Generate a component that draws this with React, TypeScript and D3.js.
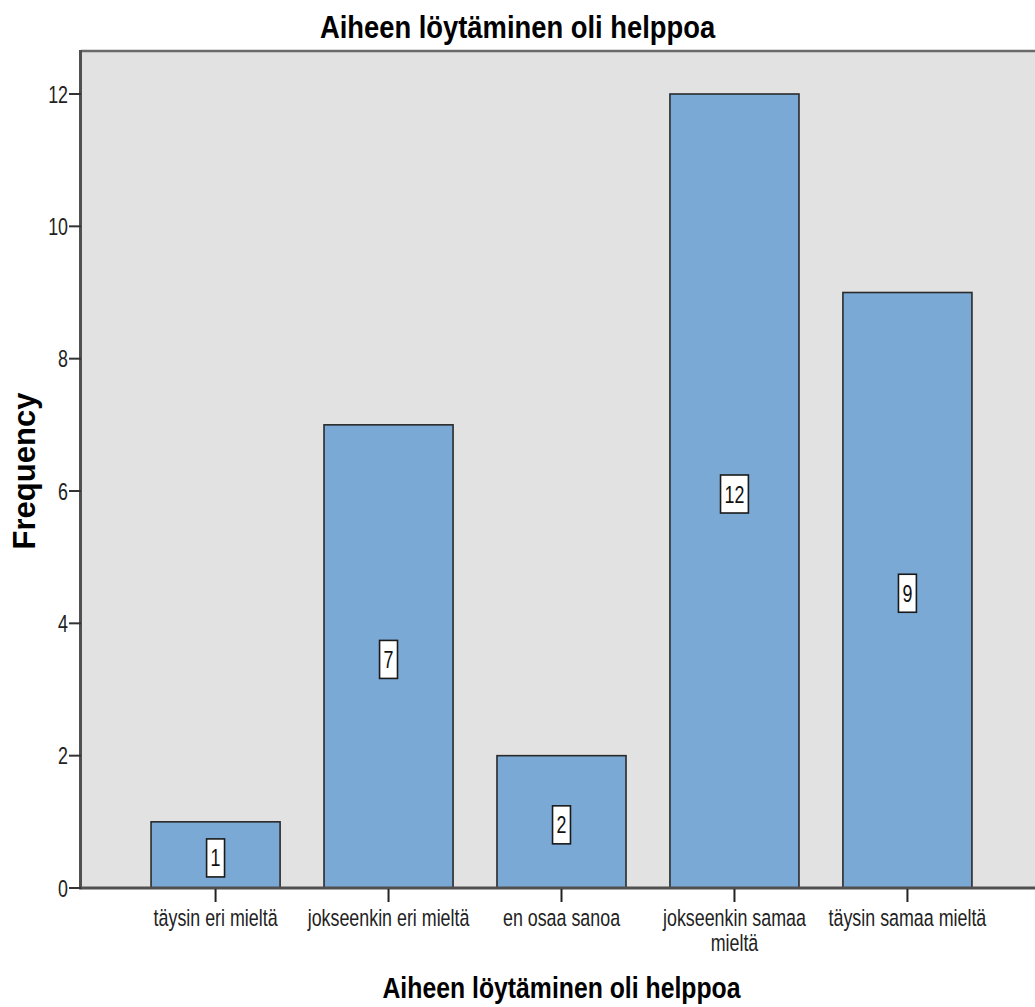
import React from "react";
import * as d3 from "d3";

const categories: string[] = [
  "täysin eri mieltä",
  "jokseenkin eri mieltä",
  "en osaa sanoa",
  "jokseenkin samaa mieltä",
  "täysin samaa mieltä",
];
const frequencies: number[] = [1, 7, 2, 12, 9];
const yTickValues: number[] = [0, 2, 4, 6, 8, 10, 12];
const chartTitle = "Aiheen löytäminen oli helppoa";
const xAxisTitle = "Aiheen löytäminen oli helppoa";
const yAxisTitle = "Frequency";

const W = 1035;
const H = 1007;
const FONT = "'Liberation Sans', Arial, sans-serif";
const LEFT = 81;
const RIGHT = 1042;
const TOP = 51;
const BOTTOM = 888;
const TICK_SX = 0.76;
const TICK_FS = 23.5;

let canvasCtx: CanvasRenderingContext2D | null = null;
function measure(text: string, font: string): number {
  if (!canvasCtx) {
    const c = document.createElement("canvas");
    canvasCtx = c.getContext("2d");
  }
  if (!canvasCtx) return text.length * 10;
  canvasCtx.font = font;
  return canvasCtx.measureText(text).width;
}

function wrap(text: string, maxW: number): string[] {
  const words = text.split(" ");
  const lines: string[] = [];
  let cur = "";
  const f = `${TICK_FS}px ${FONT}`;
  for (const w of words) {
    const test = cur ? cur + " " + w : w;
    if (measure(test, f) * TICK_SX > maxW && cur) {
      lines.push(cur);
      cur = w;
    } else cur = test;
  }
  if (cur) lines.push(cur);
  return lines;
}

export default function App() {
  const x = d3
    .scaleBand<string>()
    .domain(categories)
    .range([LEFT, RIGHT])
    .paddingInner(0.254)
    .paddingOuter(0.405);
  const y = d3.scaleLinear().domain([0, 12.65]).range([BOTTOM, TOP]);
  const bw = x.bandwidth();
  const step = x.step();

  return (
    <svg
      width={W}
      height={H}
      style={{ position: "absolute", left: 0, top: 0, background: "#fff" }}
      fontFamily={FONT}
    >
      <rect x={0} y={0} width={W} height={H} fill="#fff" />
      <text
        transform={`translate(${W / 2},38) scale(0.855,1)`}
        textAnchor="middle"
        fontSize={32}
        fontWeight="bold"
        fill="#000"
      >
        {chartTitle}
      </text>
      <rect x={LEFT} y={TOP} width={RIGHT - LEFT} height={BOTTOM - TOP} fill="#e2e2e2" />
      <line x1={LEFT} x2={RIGHT} y1={TOP} y2={TOP} stroke="#6a6a6a" strokeWidth={2.5} />
      <line x1={RIGHT} x2={RIGHT} y1={TOP} y2={BOTTOM} stroke="#6a6a6a" strokeWidth={2.5} />
      {categories.map((c, i) => {
        const v = frequencies[i];
        const x0 = x(c) as number;
        return (
          <rect
            key={c}
            x={x0}
            y={y(v)}
            width={bw}
            height={y(0) - y(v)}
            fill="#7aa9d6"
            stroke="#2a2a2a"
            strokeWidth={1.6}
          />
        );
      })}
      {categories.map((c, i) => {
        const v = frequencies[i];
        const cx = (x(c) as number) + bw / 2;
        const cy = y(v / 2) + 3;
        const tw = measure(String(v), `${TICK_FS}px ${FONT}`) * TICK_SX;
        const boxW = tw + 8;
        const boxH = 38;
        return (
          <g key={"lbl" + c}>
            <rect
              x={cx - boxW / 2}
              y={cy - boxH / 2}
              width={boxW}
              height={boxH}
              fill="#fff"
              stroke="#1a1a1a"
              strokeWidth={1.6}
            />
            <text
              transform={`translate(${cx},${cy + 8.5}) scale(${TICK_SX},1)`}
              textAnchor="middle"
              fontSize={TICK_FS}
              fill="#111"
            >
              {v}
            </text>
          </g>
        );
      })}
      <line x1={80.5} x2={80.5} y1={TOP - 1} y2={BOTTOM + 1.5} stroke="#505050" strokeWidth={3} />
      {yTickValues.map((t) => (
        <g key={"yt" + t}>
          <line x1={69} x2={81} y1={y(t)} y2={y(t)} stroke="#333" strokeWidth={2} />
          <text
            transform={`translate(68,${y(t) + 8.5}) scale(${TICK_SX},1)`}
            textAnchor="end"
            fontSize={TICK_FS}
            fill="#222"
          >
            {t}
          </text>
        </g>
      ))}
      <line x1={LEFT} x2={RIGHT} y1={BOTTOM} y2={BOTTOM} stroke="#505050" strokeWidth={3} />
      {categories.map((c) => {
        const cx = (x(c) as number) + bw / 2;
        const lines = wrap(c, step);
        return (
          <g key={"xt" + c}>
            <line x1={cx} x2={cx} y1={BOTTOM + 1} y2={BOTTOM + 14} stroke="#222" strokeWidth={2} />
            <text
              transform={`translate(${cx},926) scale(${TICK_SX},1)`}
              textAnchor="middle"
              fontSize={TICK_FS}
              fill="#222"
            >
              {lines.map((ln, k) => (
                <tspan key={k} x={0} dy={k === 0 ? 0 : 25}>
                  {ln}
                </tspan>
              ))}
            </text>
          </g>
        );
      })}
      <text
        transform={`translate(${(LEFT + RIGHT) / 2},998) scale(0.855,1)`}
        textAnchor="middle"
        fontSize={29}
        fontWeight="bold"
        fill="#000"
      >
        {xAxisTitle}
      </text>
      <text
        transform={`translate(35,471) rotate(-90)`}
        textAnchor="middle"
        fontSize={31}
        fontWeight="bold"
        fill="#000"
      >
        {yAxisTitle}
      </text>
    </svg>
  );
}
